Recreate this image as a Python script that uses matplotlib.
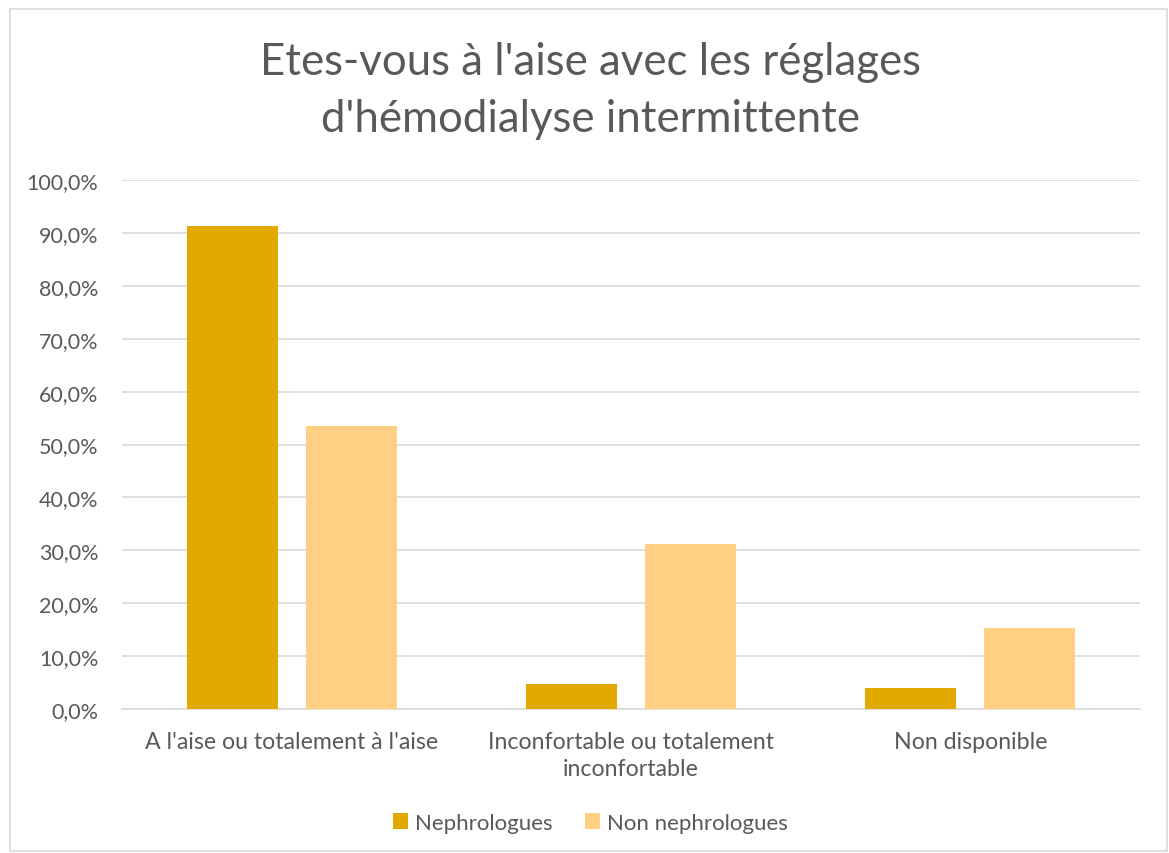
import numpy as np
import matplotlib.pyplot as plt
from matplotlib.patches import Rectangle
from matplotlib.ticker import FuncFormatter

# Données du graphique
categories = ["A l'aise ou totalement à l'aise",
              "Inconfortable ou totalement\ninconfortable",
              "Non disponible"]
nephrologues = [91.3, 4.7, 4.0]
non_nephrologues = [53.5, 31.2, 15.3]
series_names = ["Nephrologues", "Non nephrologues"]
colors = ["#E2AA00", "#FFD084"]

plt.rcParams['font.family'] = ['Lato', 'DejaVu Sans']
text_color = "#595959"

fig = plt.figure(figsize=(11.69, 8.54), dpi=100)
ax = fig.add_axes([122 / 1169, 1 - 710 / 854, (1140 - 122) / 1169, (710 - 181) / 854])

x = np.arange(len(categories))
w = 0.268
gap = 0.083
ax.bar(x - (w + gap) / 2, nephrologues, w, color=colors[0], label=series_names[0], zorder=3)
ax.bar(x + (w + gap) / 2, non_nephrologues, w, color=colors[1], label=series_names[1], zorder=3)

ax.set_xlim(-0.5, len(categories) - 0.5)
ax.set_ylim(0, 100)
ax.set_yticks(np.arange(0, 101, 10))
ax.yaxis.set_major_formatter(FuncFormatter(lambda v, p: f"{v:.1f}%".replace('.', ',')))
ax.grid(axis='y', color='#D9D9D9', linewidth=1.2, zorder=0)
for s in ['top', 'right', 'left']:
    ax.spines[s].set_visible(False)
ax.spines['bottom'].set_color('#D9D9D9')
ax.spines['bottom'].set_linewidth(1.2)
ax.tick_params(axis='both', length=0, labelcolor=text_color)
ax.tick_params(axis='y', pad=17, labelsize=15.5)
ax.tick_params(axis='x', pad=16, labelsize=16.7)
ax.set_xticks(x)
ax.set_xticklabels(categories, linespacing=1.35)

fig.text(0.505, 1 - 91 / 854, "Etes-vous à l'aise avec les réglages\nd'hémodialyse intermittente",
         ha='center', va='center', fontsize=31.5, color=text_color, linespacing=1.5)

fig.legend(loc='center', bbox_to_anchor=(0.505, 1 - 824 / 854), ncol=2, frameon=False,
           fontsize=16, labelcolor=text_color, handlelength=0.7, handleheight=0.7,
           handletextpad=0.3, columnspacing=1.45)

# cadre du graphique
fig.patches.append(Rectangle((10 / 1169, 0.002), 1157 / 1169, 1 - 10 / 854 - 0.002,
                             transform=fig.transFigure, fill=False,
                             edgecolor='#D9D9D9', linewidth=1.2))

fig.savefig('out.png', dpi=100)
